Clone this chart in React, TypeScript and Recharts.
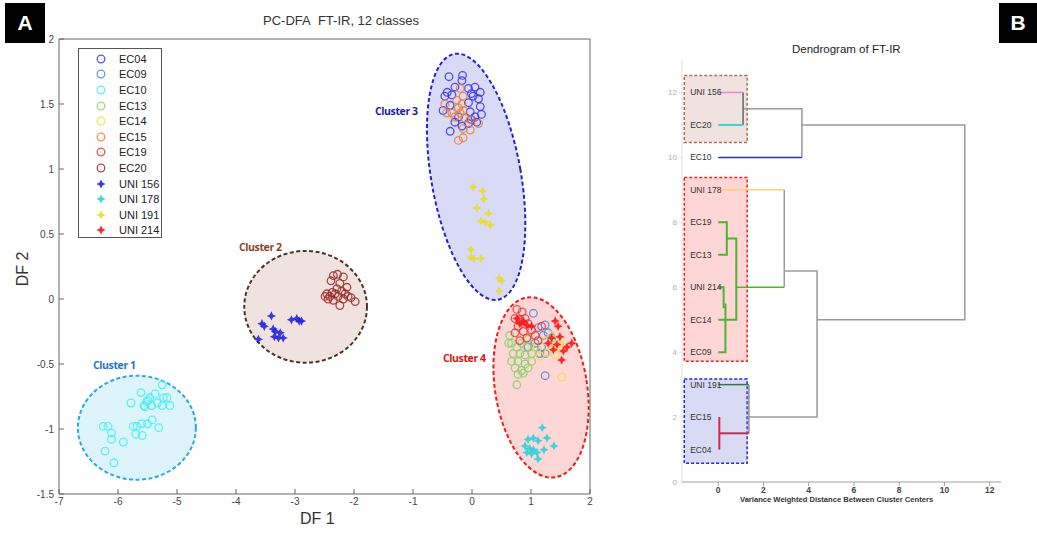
import React from 'react';
import { ScatterChart, Scatter, XAxis, YAxis, ReferenceArea, Legend } from 'recharts';

const FONT = '"Liberation Sans", Arial, sans-serif';

// ---- Panel A: PC-DFA scores (DF1, DF2) per class ----
const EC04 = [
  [-0.39, 1.71], [-0.16, 1.72], [-0.17, 1.68], [-0.42, 1.59], [-0.29, 1.63], [-0.06, 1.62], [0.05, 1.63],
  [0.14, 1.59], [-0.46, 1.56], [-0.34, 1.57], [-0.01, 1.58], [0.11, 1.54], [0.02, 1.56], [-0.49, 1.45],
  [-0.06, 1.51], [0.14, 1.48], [-0.37, 1.49], [0.16, 1.42], [0.05, 1.4], [-0.29, 1.36], [-0.37, 1.29],
  [-0.17, 1.33], [-0.06, 1.35], [0.08, 1.36], [-0.01, 1.38], [-0.23, 1.4], [-0.03, 1.44],
];
const EC09 = [
  [1.04, -0.11], [1.24, -0.2], [1.12, -0.22], [1.29, -0.26], [1.21, -0.28], [1.07, -0.34], [1.18, -0.37],
  [1.24, -0.42], [1.15, -0.42], [0.95, -0.37], [1.24, -0.59], [1.35, -0.3],
];
const EC10 = [
  [-5.25, -0.66], [-5.61, -0.72], [-5.78, -0.8], [-5.37, -0.73], [-5.46, -0.76], [-5.51, -0.79], [-5.56, -0.82],
  [-5.43, -0.82], [-5.33, -0.8], [-5.23, -0.76], [-5.17, -0.76], [-5.25, -0.82], [-5.12, -0.82], [-5.49, -0.78],
  [-5.54, -0.83], [-6.25, -0.98], [-6.17, -0.98], [-6.11, -1.03], [-6.11, -1.08], [-6.22, -1.17], [-6.07, -1.26],
  [-5.91, -1.1], [-5.74, -0.98], [-5.68, -0.98], [-5.6, -0.96], [-5.5, -0.96], [-5.42, -0.93], [-5.31, -0.99],
  [-5.7, -1.04], [-5.59, -1.05],
];
const EC13 = [
  [0.64, -0.28], [0.67, -0.34], [0.76, -0.37], [0.84, -0.34], [0.93, -0.37], [0.7, -0.42], [0.81, -0.42],
  [0.9, -0.43], [1.01, -0.42], [0.67, -0.48], [0.78, -0.48], [0.9, -0.5], [1.01, -0.48], [0.73, -0.53],
  [0.84, -0.55], [0.95, -0.53], [0.78, -0.58], [0.76, -0.66], [0.62, -0.34], [1.07, -0.37], [0.87, -0.57],
  [0.95, -0.31],
];
const EC14 = [
  [1.24, -0.32], [1.35, -0.34], [1.44, -0.32], [1.15, -0.44], [1.29, -0.41], [1.41, -0.43], [1.52, -0.38],
  [1.49, -0.34], [1.52, -0.6], [1.1, -0.38], [1.35, -0.28],
];
const EC15 = [
  [-0.46, 1.5], [-0.43, 1.43], [-0.26, 1.53], [-0.17, 1.5], [-0.23, 1.47], [-0.15, 1.45], [-0.2, 1.43],
  [-0.12, 1.39], [-0.29, 1.4], [-0.03, 1.38], [0.11, 1.35], [-0.15, 1.31], [-0.03, 1.3], [-0.23, 1.22],
  [-0.15, 1.24], [-0.2, 1.62], [-0.15, 1.56], [-0.34, 1.43],
];
const EC19 = [
  [0.76, -0.08], [0.85, -0.1], [0.73, -0.15], [0.81, -0.16], [0.9, -0.15], [0.95, -0.19], [0.78, -0.21],
  [0.87, -0.25], [0.73, -0.26], [1.01, -0.24], [1.07, -0.28], [0.93, -0.3], [0.81, -0.32], [1.18, -0.21],
  [1.12, -0.32],
];
const EC20 = [
  [-2.35, 0.18], [-2.28, 0.19], [-2.18, 0.17], [-2.39, 0.14], [-2.24, 0.12], [-2.12, 0.09], [-2.29, 0.08],
  [-2.37, 0.05], [-2.21, 0.06], [-2.46, 0.04], [-2.32, 0.04], [-2.15, 0.04], [-2.41, 0.02], [-2.27, 0.02],
  [-2.1, 0.02], [-2.49, 0.02], [-2.35, -0.01], [-2.18, 0.0], [-1.98, -0.02], [-2.24, -0.05], [-2.44, 0.0],
  [-2.05, 0.01],
];
const UNI156 = [
  [-3.4, -0.13], [-3.56, -0.19], [-3.52, -0.21], [-3.37, -0.23], [-3.33, -0.25], [-3.25, -0.26], [-3.35, -0.29],
  [-3.28, -0.3], [-3.2, -0.3], [-3.62, -0.31], [-3.06, -0.16], [-2.97, -0.15], [-2.89, -0.17], [-2.93, -0.17],
];
const UNI178 = [
  [1.19, -0.99], [1.27, -1.07], [1.39, -1.13], [1.22, -1.16], [0.95, -1.08], [1.04, -1.07], [1.12, -1.09],
  [0.9, -1.13], [0.98, -1.15], [1.04, -1.16], [1.1, -1.18], [0.93, -1.18], [1.12, -1.23], [1.01, -1.19],
];
const UNI191 = [
  [0.02, 0.86], [0.18, 0.83], [0.2, 0.77], [0.08, 0.7], [0.28, 0.66], [0.15, 0.6], [0.22, 0.59], [0.31, 0.57],
  [-0.02, 0.38], [-0.02, 0.32], [0.03, 0.31], [0.15, 0.31], [0.46, 0.16], [0.5, 0.14], [0.46, 0.06],
];
const UNI214 = [
  [0.81, -0.19], [0.93, -0.2], [0.87, -0.17], [1.01, -0.21], [1.41, -0.17], [1.46, -0.21], [1.29, -0.34],
  [1.44, -0.35], [1.38, -0.39], [1.55, -0.4], [1.52, -0.47], [1.61, -0.37], [1.69, -0.34], [1.49, -0.29],
  [1.35, -0.3], [0.76, -0.15],
];

const DF1_TICKS = [-7, -6, -5, -4, -3, -2, -1, 0, 1, 2];
const DF2_TICKS = [-1.5, -1, -0.5, 0, 0.5, 1, 1.5, 2];

const SERIES = [
  { name: 'EC04', data: EC04, color: '#3434ee', star: false },
  { name: 'EC09', data: EC09, color: '#4f86e6', star: false },
  { name: 'EC10', data: EC10, color: '#3ff0f5', star: false },
  { name: 'EC13', data: EC13, color: '#86d466', star: false },
  { name: 'EC14', data: EC14, color: '#f2e03a', star: false },
  { name: 'EC15', data: EC15, color: '#ee8034', star: false },
  { name: 'EC19', data: EC19, color: '#f03232', star: false },
  { name: 'EC20', data: EC20, color: '#9c2a24', star: false },
  { name: 'UNI 156', data: UNI156, color: '#2424e6', star: true },
  { name: 'UNI 178', data: UNI178, color: '#2ed2d8', star: true },
  { name: 'UNI 191', data: UNI191, color: '#e6de2a', star: true },
  { name: 'UNI 214', data: UNI214, color: '#ff1414', star: true },
];

// cluster outlines (data-space boxes, drawn as rotated ellipses)
const CLUSTERS = [
  { x1: -6.68, x2: -4.68, y1: -1.39, y2: -0.59, angle: 0, fill: '#ddf4fc', stroke: '#2aa8e2' },
  { x1: -3.86, x2: -1.78, y1: -0.49, y2: 0.37, angle: 0, fill: '#f0e2de', stroke: '#4e3228' },
  { x1: -0.69, x2: 0.83, y1: -0.02, y2: 1.9, angle: -10, fill: '#d8daf6', stroke: '#2222d2' },
  { x1: 0.39, x2: 1.95, y1: -1.38, y2: 0.02, angle: -9, fill: '#fdd6d6', stroke: '#f01a1a' },
];

const CLUSTER_LABELS = [
  { text: 'Cluster 1', left: 93, top: 358, color: '#2677c2' },
  { text: 'Cluster 2', left: 239, top: 240, color: '#8a4726' },
  { text: 'Cluster 3', left: 375, top: 104, color: '#1c1cb4' },
  { text: 'Cluster 4', left: 443, top: 351, color: '#e21212' },
];

// ---- Panel B: dendrogram ----
const LEAF_NAMES = ['UNI 156', 'EC20', 'EC10', 'UNI 178', 'EC19', 'EC13', 'UNI 214', 'EC14', 'EC09', 'UNI 191', 'EC15', 'EC04'];
const LEAF_POS = [12, 11, 10, 9, 8, 7, 6, 5, 4, 3, 2, 1];
const DIST_TICKS = [0, 2, 4, 6, 8, 10, 12];
const POS_TICKS = [0, 2, 4, 6, 8, 10, 12];

const L_UNI156 = [[0, 12], [1.1, 12]];
const L_EC20 = [[0, 11], [1.1, 11]];
const L_JOIN_1 = [[1.1, 12], [1.1, 11]];
const L_JOIN_2 = [[1.1, 11.5], [3.7, 11.5], [3.7, 10]];
const L_EC10 = [[0, 10], [3.7, 10]];
const L_ROOT = [[3.7, 11], [10.9, 11], [10.9, 5], [4.37, 5]];
const L_UNI178 = [[0, 9], [2.92, 9]];
const L_JOIN_3 = [[2.92, 9], [2.92, 6]];
const L_GREEN_TOP = [[0.8, 6], [2.92, 6]];
const L_JOIN_4 = [[2.92, 6.5], [4.37, 6.5], [4.37, 2], [1.35, 2]];
const L_EC19_EC13 = [[0, 8], [0.38, 8], [0.38, 7], [0, 7]];
const L_GREEN_MID = [[0.38, 7.5], [0.8, 7.5], [0.8, 5], [0, 5]];
const L_UNI214 = [[0, 6], [0.24, 6], [0.24, 5.35]];
const L_EC09 = [[0, 4], [0.32, 4], [0.32, 5.5]];
const L_UNI191 = [[0, 3], [1.35, 3]];
const L_EC15_EC04 = [[0.05, 2], [0.05, 1]];
const L_RED_JOIN = [[0.05, 1.5], [1.35, 1.5]];
const L_JOIN_5 = [[1.35, 3], [1.35, 1.5]];

const GREY = '#9a9a9a';
const GREEN = '#52b234';
const LINKS = [
  { pts: L_JOIN_2, color: GREY, w: 1.5 },
  { pts: L_ROOT, color: GREY, w: 1.5 },
  { pts: L_JOIN_3, color: GREY, w: 1.5 },
  { pts: L_JOIN_4, color: GREY, w: 1.5 },
  { pts: L_JOIN_5, color: GREY, w: 2 },
  { pts: L_JOIN_1, color: '#666666', w: 1.5 },
  { pts: L_UNI156, color: '#e48ad8', w: 1.5 },
  { pts: L_EC20, color: '#3ed2d2', w: 2 },
  { pts: L_EC10, color: '#2626e8', w: 1.5 },
  { pts: L_UNI178, color: '#fbd076', w: 1.5 },
  { pts: L_GREEN_TOP, color: GREEN, w: 1.5 },
  { pts: L_EC19_EC13, color: GREEN, w: 2 },
  { pts: L_GREEN_MID, color: GREEN, w: 2 },
  { pts: L_UNI214, color: GREEN, w: 2 },
  { pts: L_EC09, color: GREEN, w: 2 },
  { pts: L_UNI191, color: '#2a7a4a', w: 1.5 },
  { pts: L_EC15_EC04, color: '#d0284c', w: 2 },
  { pts: L_RED_JOIN, color: '#d0284c', w: 2 },
];

const GROUP_BOXES = [
  { y1: 10.46, y2: 12.52, fill: '#f0e3df', stroke: '#a8735c' },
  { y1: 3.72, y2: 9.38, fill: '#ffd6d6', stroke: '#f42020' },
  { y1: 0.58, y2: 3.17, fill: '#d9daf4', stroke: '#2626e0' },
];

const toPts = (a: number[][]) => a.map(([x, y]) => ({ x, y }));

const Ring = ({ cx, cy, color }: any) => (
  <circle cx={cx} cy={cy} r={3.8} fill="none" stroke={color} strokeWidth={1.3} strokeOpacity={0.85} />
);

const Star = ({ cx, cy, color }: any) => {
  const o = 4.6;
  const i = 1.5;
  const d = `M${cx},${cy - o} L${cx + i},${cy - i} L${cx + o},${cy} L${cx + i},${cy + i} L${cx},${cy + o} L${cx - i},${cy + i} L${cx - o},${cy} L${cx - i},${cy - i} Z`;
  return <path d={d} fill={color} fillOpacity={0.9} />;
};

const ellipseShape = (angle: number, fill: string, stroke: string) => (props: any) => {
  const { x, y, width, height } = props;
  const cx = x + width / 2;
  const cy = y + height / 2;
  return (
    <ellipse
      cx={cx}
      cy={cy}
      rx={Math.abs(width) / 2}
      ry={Math.abs(height) / 2}
      transform={`rotate(${angle} ${cx} ${cy})`}
      fill={fill}
      stroke={stroke}
      strokeWidth={2}
      strokeDasharray="4 2.5"
    />
  );
};

const LegendBox = () => (
  <div
    style={{
      width: 84,
      height: 190,
      border: '1.5px solid #555',
      background: '#fff',
      boxSizing: 'border-box',
      paddingTop: 2,
      fontFamily: FONT,
    }}
  >
    {SERIES.map((s) => (
      <div key={s.name} style={{ height: 15.6, display: 'flex', alignItems: 'center', fontSize: 11, color: '#222' }}>
        <svg width={40} height={12} style={{ flex: 'none' }}>
          {s.star ? <Star cx={22} cy={6} color={s.color} /> : <Ring cx={22} cy={6} color={s.color} />}
        </svg>
        <span>{s.name}</span>
      </div>
    ))}
  </div>
);

const LeafLabel = (props: any) => {
  const { cx, cy, payload } = props;
  return (
    <text x={cx - 28} y={cy + 3} fontSize={8.5} fill="#333" fontFamily={FONT}>
      {payload.name}
    </text>
  );
};

const tagStyle: React.CSSProperties = {
  position: 'absolute',
  background: '#000',
  color: '#fff',
  fontFamily: FONT,
  fontWeight: 'bold',
  fontSize: 21,
  display: 'flex',
  alignItems: 'center',
  justifyContent: 'center',
};

export default function App() {
  const leaves = LEAF_NAMES.map((name, i) => ({ x: 0, y: LEAF_POS[i], name }));
  return (
    <div style={{ position: 'absolute', left: 0, top: 0, width: 1037, height: 535, background: '#fff', fontFamily: FONT }}>
      <div style={{ ...tagStyle, left: 5, top: 3, width: 40, height: 40 }}>A</div>
      <div style={{ ...tagStyle, left: 999, top: 3, width: 38, height: 40 }}>B</div>

      <div style={{ position: 'absolute', left: 0, top: 0 }}>
        <ScatterChart width={640} height={535} margin={{ top: 38, right: 49, bottom: 11, left: 19 }}>
          <XAxis
            type="number"
            dataKey="x"
            domain={[-7, 2]}
            ticks={DF1_TICKS}
            allowDataOverflow
            height={30}
            tickSize={-5}
            tickMargin={9}
            stroke="#666"
            tick={{ fontSize: 10, fill: '#444', fontFamily: FONT }}
          />
          <XAxis xAxisId="top" orientation="top" type="number" domain={[-7, 2]} ticks={DF1_TICKS} height={1} tickSize={-5} tick={false} stroke="#666" />
          <YAxis
            type="number"
            dataKey="y"
            domain={[-1.5, 2]}
            ticks={DF2_TICKS}
            allowDataOverflow
            width={40}
            tickSize={-5}
            tickMargin={10}
            stroke="#666"
            tick={{ fontSize: 10, fill: '#444', fontFamily: FONT }}
          />
          <YAxis yAxisId="right" orientation="right" type="number" domain={[-1.5, 2]} ticks={DF2_TICKS} width={1} tickSize={-5} tick={false} stroke="#666" />
          {CLUSTERS.map((c, i) => (
            <ReferenceArea
              key={i}
              x1={c.x1}
              x2={c.x2}
              y1={c.y1}
              y2={c.y2}
              ifOverflow="visible"
              shape={ellipseShape(c.angle, c.fill, c.stroke)}
            />
          ))}
          {SERIES.map((s) => (
            <Scatter
              key={s.name}
              name={s.name}
              data={toPts(s.data)}
              isAnimationActive={false}
              shape={(p: any) => (s.star ? <Star cx={p.cx} cy={p.cy} color={s.color} /> : <Ring cx={p.cx} cy={p.cy} color={s.color} />)}
            />
          ))}
          <Legend
            layout="vertical"
            align="center"
            verticalAlign="middle"
            content={() => <LegendBox />}
            wrapperStyle={{ left: 78, top: 48, width: 84, height: 190 }}
          />
        </ScatterChart>
      </div>

      <div style={{ position: 'absolute', left: 263, top: 13, fontSize: 13, color: '#333' }}>PC-DFA&nbsp; FT-IR, 12 classes</div>
      <div style={{ position: 'absolute', left: 300, top: 510, fontSize: 16, color: '#333' }}>DF 1</div>
      <div style={{ position: 'absolute', left: 6, top: 260, fontSize: 16, color: '#333', transform: 'rotate(-90deg)', transformOrigin: 'center' }}>DF 2</div>
      {CLUSTER_LABELS.map((l) => (
        <div
          key={l.text}
          style={{ position: 'absolute', left: l.left, top: l.top, fontSize: 10.5, fontWeight: 'bold', color: l.color, letterSpacing: -0.4, fontFamily: '"Open Sans", sans-serif' }}
        >
          {l.text}
        </div>
      ))}

      <div style={{ position: 'absolute', left: 640, top: 0 }}>
        <ScatterChart width={397} height={535} margin={{ top: 60, right: 36, bottom: 33, left: 12 }}>
          <XAxis
            type="number"
            dataKey="x"
            domain={[-1.6, 12.5]}
            ticks={DIST_TICKS}
            allowDataOverflow
            height={20}
            tickSize={4}
            tickMargin={1}
            stroke="#a0a0a0"
            tick={{ fontSize: 8.5, fill: '#444', fontFamily: FONT, fontWeight: 'bold' }}
          />
          <YAxis
            type="number"
            dataKey="y"
            domain={[0, 13]}
            ticks={POS_TICKS}
            allowDataOverflow
            width={30}
            tickSize={3}
            tickMargin={2}
            stroke="#e2e2e2"
            tick={{ fontSize: 8, fill: '#b0b0b0', fontFamily: FONT }}
          />
          {GROUP_BOXES.map((b, i) => (
            <ReferenceArea
              key={i}
              x1={-1.5}
              x2={1.28}
              y1={b.y1}
              y2={b.y2}
              fill={b.fill}
              fillOpacity={1}
              stroke={b.stroke}
              strokeWidth={1.5}
              strokeDasharray="3 2"
            />
          ))}
          {LINKS.map((l, i) => (
            <Scatter
              key={i}
              data={toPts(l.pts)}
              line={{ stroke: l.color, strokeWidth: l.w }}
              lineType="joint"
              shape={() => <g />}
              isAnimationActive={false}
            />
          ))}
          <Scatter data={leaves} shape={LeafLabel} isAnimationActive={false} />
        </ScatterChart>
      </div>

      <div style={{ position: 'absolute', left: 792, top: 43, fontSize: 11.5, color: '#222' }}>Dendrogram of FT-IR</div>
      <div style={{ position: 'absolute', left: 740, top: 495, fontSize: 7.6, fontWeight: 'bold', color: '#333' }}>
        Variance Weighted Distance Between Cluster Centers
      </div>
    </div>
  );
}
